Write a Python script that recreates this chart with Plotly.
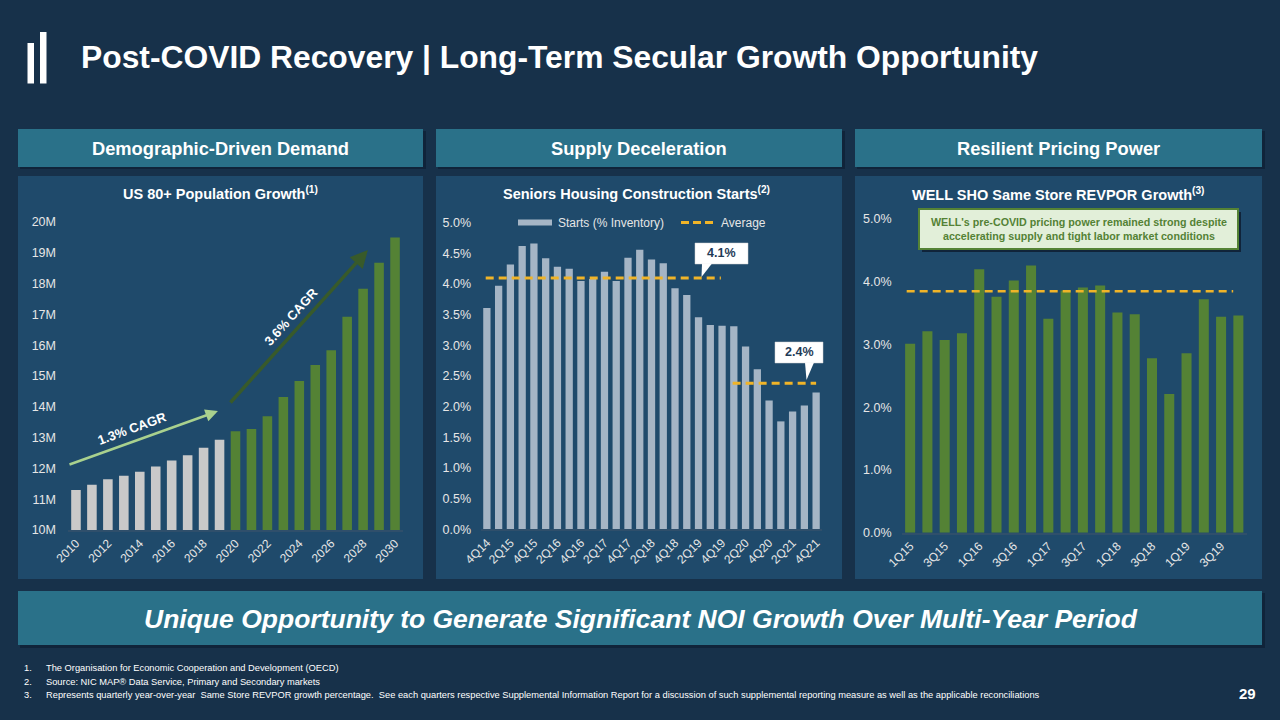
import plotly.graph_objects as go

W, H = 1280, 720

# ---------------- Data ----------------
# Left: US 80+ population (millions)
years = list(range(2010, 2031))
population_m = [11.30, 11.47, 11.65, 11.76, 11.89, 12.06, 12.26, 12.43, 12.67, 12.93,
                13.21, 13.28, 13.69, 14.32, 14.84, 15.36, 15.84, 16.92, 17.83, 18.68, 19.50]
projection_start = 2020
pop_ticks = list(range(10, 21))
pop_ticktext = [f"{v}M" for v in pop_ticks]

# Middle: Seniors housing construction starts (% of inventory)
starts_quarters = ["4Q14", "1Q15", "2Q15", "3Q15", "4Q15", "1Q16", "2Q16", "3Q16", "4Q16",
                   "1Q17", "2Q17", "3Q17", "4Q17", "1Q18", "2Q18", "3Q18", "4Q18",
                   "1Q19", "2Q19", "3Q19", "4Q19", "1Q20", "2Q20", "3Q20", "4Q20",
                   "1Q21", "2Q21", "3Q21", "4Q21"]
starts_pct = [3.61, 3.97, 4.32, 4.62, 4.66, 4.42, 4.28, 4.25, 4.05,
              4.08, 4.20, 4.05, 4.43, 4.56, 4.40, 4.34, 3.93,
              3.82, 3.46, 3.33, 3.32, 3.31, 2.98, 2.61, 2.10,
              1.76, 1.92, 2.02, 2.23]
avg_pre_covid = 4.10
avg_pre_label = "4.1%"
avg_post_covid = 2.38
avg_post_label = "2.4%"
pre_span = ("4Q14", "4Q19")
post_span = ("1Q20", "4Q21")

# Right: WELL SHO same store REVPOR growth (%)
revpor_quarters = ["1Q15", "2Q15", "3Q15", "4Q15", "1Q16", "2Q16", "3Q16", "4Q16",
                   "1Q17", "2Q17", "3Q17", "4Q17", "1Q18", "2Q18", "3Q18", "4Q18",
                   "1Q19", "2Q19", "3Q19", "4Q19"]
revpor_pct = [3.01, 3.21, 3.07, 3.18, 4.20, 3.76, 4.02, 4.26,
              3.41, 3.86, 3.91, 3.94, 3.51, 3.48, 2.78, 2.21,
              2.86, 3.72, 3.44, 3.46]
revpor_avg = 3.85

# ---------------- Styling ----------------
BG = "#17314a"
PANEL = "#1f4a6b"
HEADER = "#2a7189"
GRAY = "#c9c9c9"
BLUEGRAY = "#a5b5c5"
GREEN = "#548235"
GOLD = "#f0b428"
TICK = "#e6e6e6"
FONT = "Liberation Sans, Arial, sans-serif"


def px(x):
    return x / W


def py(y):
    return 1 - y / H


fig = go.Figure()

# Left bars
fig.add_trace(go.Bar(
    x=years, y=population_m,
    marker_color=[GRAY if yv < projection_start else GREEN for yv in years],
    marker_line_width=0, width=0.6, xaxis="x", yaxis="y", showlegend=False,
))

# Middle bars
mid_idx = list(range(len(starts_quarters)))
fig.add_trace(go.Bar(
    x=mid_idx, y=starts_pct, marker_color=BLUEGRAY, marker_line_width=0, width=0.62,
    xaxis="x2", yaxis="y2", showlegend=False,
))
pre_a, pre_b = starts_quarters.index(pre_span[0]), starts_quarters.index(pre_span[1])
post_a, post_b = starts_quarters.index(post_span[0]), starts_quarters.index(post_span[1])
fig.add_trace(go.Scatter(
    x=[pre_a - 0.1, pre_b - 0.1], y=[avg_pre_covid, avg_pre_covid], mode="lines",
    line=dict(color=GOLD, width=3, dash="8px,5px"), xaxis="x2", yaxis="y2", showlegend=False,
))
fig.add_trace(go.Scatter(
    x=[post_a - 0.1, post_b], y=[avg_post_covid, avg_post_covid], mode="lines",
    line=dict(color=GOLD, width=3, dash="8px,5px"), xaxis="x2", yaxis="y2", showlegend=False,
))

# Right bars
r_idx = list(range(len(revpor_quarters)))
fig.add_trace(go.Bar(
    x=r_idx, y=revpor_pct, marker_color=GREEN, marker_line_width=0, width=0.58,
    xaxis="x3", yaxis="y3", showlegend=False,
))
fig.add_trace(go.Scatter(
    x=[r_idx[0] - 0.2, r_idx[-1] - 0.3], y=[revpor_avg, revpor_avg], mode="lines",
    line=dict(color=GOLD, width=2.5, dash="8px,5px"), xaxis="x3", yaxis="y3", showlegend=False,
))

tickfont = dict(family=FONT, size=12.5, color=TICK)
xtickfont = dict(family=FONT, size=12, color=TICK)
axis_common = dict(showgrid=False, zeroline=False, ticks="", fixedrange=True, automargin=False)

fig.update_layout(
    width=W, height=H, margin=dict(l=0, r=0, t=0, b=0, pad=0, autoexpand=False),
    paper_bgcolor=BG, plot_bgcolor="rgba(0,0,0,0)",
    font=dict(family=FONT, color="white"),
    showlegend=False,
    bargap=0.4,
    xaxis=dict(domain=[px(68), px(403)], range=[2009.5, 2030.5], anchor="y",
               tickvals=years[::2], ticktext=[str(v) for v in years[::2]], tickangle=-45,
               tickfont=xtickfont, showline=True, linecolor="#2f4f6b", linewidth=1.5, **axis_common),
    yaxis=dict(domain=[py(530), py(222)], range=[10, 20], anchor="x", ticklabelstandoff=11,
               tickvals=pop_ticks, ticktext=pop_ticktext, tickfont=tickfont, **axis_common),
    xaxis2=dict(domain=[px(481), px(822)], range=[-0.5, 28.5], anchor="y2",
                tickvals=mid_idx[::2], ticktext=starts_quarters[::2], tickangle=-45,
                tickfont=xtickfont, showline=True, linecolor="#2f4f6b", linewidth=1.5, **axis_common),
    yaxis2=dict(domain=[py(529.3), py(222.7)], range=[0, 5], anchor="x2", ticklabelstandoff=9,
                dtick=0.5, tickformat=".1f", ticksuffix="%", tickfont=tickfont, **axis_common),
    xaxis3=dict(domain=[px(901.5), px(1247)], range=[-0.5, 19.5], anchor="y3",
                tickvals=r_idx[::2], ticktext=revpor_quarters[::2], tickangle=-45,
                tickfont=xtickfont, showline=True, linecolor="#2f4f6b", linewidth=1.5, **axis_common),
    yaxis3=dict(domain=[py(532.7), py(219)], range=[0, 5], anchor="x3", ticklabelstandoff=9,
                dtick=1, tickformat=".1f", ticksuffix="%", tickfont=tickfont, **axis_common),
)

shapes = []


def rect(x0, y0, x1, y1, color, line=None, layer="below"):
    d = dict(type="rect", xref="paper", yref="paper", x0=px(x0), x1=px(x1), y0=py(y1), y1=py(y0),
             fillcolor=color, layer=layer, line=dict(width=0) if line is None else line)
    shapes.append(d)


# panels with subtle shadow
for (x0, x1) in [(18, 423), (436, 842), (855, 1262)]:
    rect(x0 + 2, 131, x1 + 3, 169, "#10243a")
    rect(x0, 129, x1, 167, HEADER)
    rect(x0, 176, x1, 579, PANEL)
rect(20, 593, 1265, 648, "#10243a")
rect(18, 591, 1262, 645, HEADER)

# logo bars
rect(27.5, 43, 34, 83.5, "white")
rect(40, 32, 46.5, 83.5, "white")

# middle legend swatches
rect(518, 219.5, 552, 225.5, BLUEGRAY, layer="above")
shapes.append(dict(type="line", xref="paper", yref="paper", x0=px(681), x1=px(714), y0=py(222.5), y1=py(222.5),
                   line=dict(color=GOLD, width=3, dash="8px,4px")))


# callout boxes (white) with pointer tails
def callout(bx0, by0, bx1, by1, tail_x0, tail_x1, tip_x, tip_y):
    rect(bx0, by0, bx1, by1, "white", line=dict(color="#d0d0d0", width=0.5), layer="above")
    path = f"M {px(tail_x0)},{py(by1 - 0.5)} L {px(tail_x1)},{py(by1 - 0.5)} L {px(tip_x)},{py(tip_y)} Z"
    shapes.append(dict(type="path", xref="paper", yref="paper", path=path, fillcolor="white",
                       line=dict(width=0), layer="above"))


callout(695, 243, 748, 264, 702, 712, 701.5, 277)
callout(775, 342, 823, 363, 805, 814, 806.5, 380)

# right annotation box
rect(922, 212, 1241, 252, "#10243a")
rect(919, 209, 1238, 249, "#e2efd9", line=dict(color=GREEN, width=2), layer="above")

fig.update_layout(shapes=shapes)

ann = []


def text(x, y, s, size, color="white", bold=True, italic=False, xanchor="center", yanchor="middle",
         angle=0, family=FONT):
    if bold:
        s = f"<b>{s}</b>"
    if italic:
        s = f"<i>{s}</i>"
    ann.append(dict(x=px(x), y=py(y), xref="paper", yref="paper", text=s, showarrow=False,
                    font=dict(family=family, size=size, color=color), xanchor=xanchor,
                    yanchor=yanchor, textangle=angle))


text(79, 57, "Post-COVID Recovery | Long-Term Secular Growth Opportunity", 31.8, xanchor="left")
text(220.5, 148.5, "Demographic-Driven Demand", 18.3)
text(639, 148.5, "Supply Deceleration", 18.3)
text(1058.5, 148.5, "Resilient Pricing Power", 18.3)
text(641, 618.5, "Unique Opportunity to Generate Significant NOI Growth Over Multi-Year Period", 26.5,
     italic=True)

text(220.5, 193, "US 80+ Population Growth<sup>(1)</sup>", 14.5)
text(636, 193, "Seniors Housing Construction Starts<sup>(2)</sup>", 14.5)
text(1058, 194, "WELL SHO Same Store REVPOR Growth<sup>(3)</sup>", 14.5)

# legend text
text(556, 222.5, "Starts (% Inventory)", 12, color=TICK, bold=False, xanchor="left")
text(719, 222.5, "Average", 12, color=TICK, bold=False, xanchor="left")

# callout texts
text(721.5, 253.5, avg_pre_label, 12.5, color="#1f3b57")
text(799, 352.5, avg_post_label, 12.5, color="#1f3b57")

# right box text
text(1078.5, 229, "WELL's pre-COVID pricing power remained strong despite<br>accelerating supply and tight labor market conditions",
     10.7, color=GREEN)

# footnotes
notes = [
    "The Organisation for Economic Cooperation and Development (OECD)",
    "Source: NIC MAP\u00ae Data Service, Primary and Secondary markets",
    "Represents quarterly year-over-year  Same Store REVPOR growth percentage.  See each quarters respective Supplemental Information Report for a discussion of such supplemental reporting measure as well as the applicable reconciliations",
]
for i, n in enumerate(notes):
    yy = 668 + i * 13.5
    text(22, yy, f"{i + 1}.", 9.3, bold=False, xanchor="left")
    text(44, yy, n, 9.3, bold=False, xanchor="left")
text(1258, 693, "29", 15, xanchor="right")

# CAGR arrows (data coords, left chart)
ann.append(dict(x=2018.9, y=13.86, ax=2009.5, ay=12.11, xref="x", yref="y", axref="x", ayref="y",
                text="", showarrow=True, arrowhead=2, arrowsize=1, arrowwidth=2.5, arrowcolor="#a9d18e"))
ann.append(dict(x=2028.3, y=19.09, ax=2019.6, ay=14.09, xref="x", yref="y", axref="x", ayref="y",
                text="", showarrow=True, arrowhead=2, arrowsize=1, arrowwidth=3.5, arrowcolor="#385a2a"))
ann.append(dict(x=2013.5, y=13.30, xref="x", yref="y", text="<b>1.3% CAGR</b>", showarrow=False,
                textangle=-20, font=dict(family=FONT, size=13, color="white")))
ann.append(dict(x=2023.5, y=16.93, xref="x", yref="y", text="<b>3.6% CAGR</b>", showarrow=False,
                textangle=-48, font=dict(family=FONT, size=13, color="white")))

fig.update_layout(annotations=ann)

fig.write_html("out.html")
